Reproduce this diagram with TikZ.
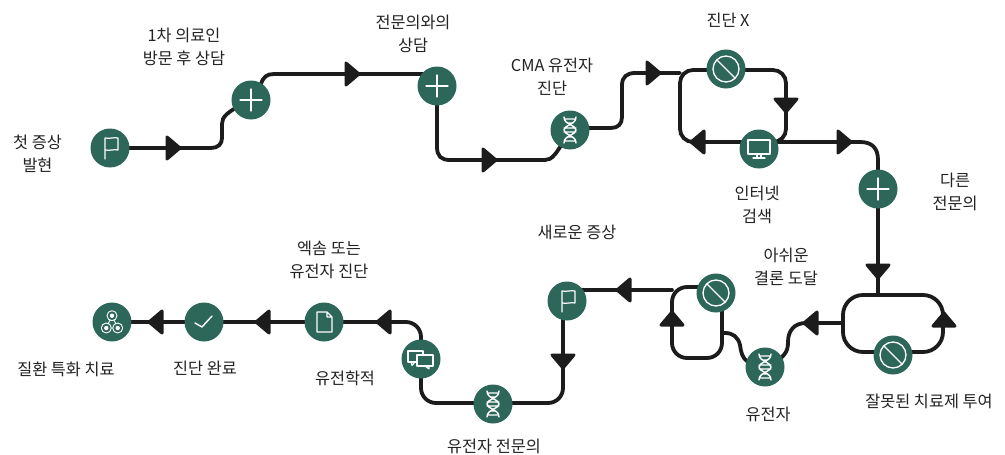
\documentclass[tikz,border=0pt]{standalone}
\usepackage{fontspec}
\setmainfont{Noto Sans CJK KR}
\usetikzlibrary{backgrounds}
\definecolor{stepgreen}{HTML}{2D675A}
\definecolor{linedark}{HTML}{1C1C1C}
\definecolor{labeltext}{HTML}{222222}
\tikzset{
  stepnode/.style={circle,fill=stepgreen,minimum size=39pt,inner sep=0pt},
  flowline/.style={draw=linedark,line width=3.8pt,line cap=round},
  tipmark/.style={fill=linedark,draw=linedark,line width=3pt,line join=round},
  lbl/.style={align=center,text=labeltext,inner sep=0pt,font=\fontsize{16.3}{23}\selectfont},
  iconline/.style={draw=white,line width=1.1pt,line join=round,line cap=round},
  plusicon/.pic={\draw[iconline] (-11,0)--(11,0) (0,-11)--(0,11);},
  flagicon/.pic={\draw[iconline,line width=1.2pt] (-5,11)--(-5,-10) .. controls (0,-9) and (4,-11) .. (8,-10)--(8,2) .. controls (4,1) and (0,3) .. (-5,2);},
  banicon/.pic={\draw[iconline,line width=1.3pt] (0,0) circle[radius=13pt] (-9,-9)--(9,9);},
  dnaicon/.pic={\draw[iconline,line width=1.4pt]
      (-6,-13) .. controls (-6,-5) and (6,-5) .. (6,0) .. controls (6,5) and (-6,5) .. (-6,13)
      (6,-13) .. controls (6,-5) and (-6,-5) .. (-6,0) .. controls (-6,5) and (6,5) .. (6,13)
      (-5,-11)--(5,-11) (-3,-7)--(3,-7) (-6,-2)--(6,-2) (-6,2)--(6,2) (-3,7)--(3,7) (-5,11)--(5,11);},
  monitoricon/.pic={\draw[iconline,line width=2pt] (-11,-9) rectangle (11,5);
      \draw[iconline] (-2,6)--(-2,8) (2,6)--(2,8) (-6,9)--(6,9);},
  checkicon/.pic={\draw[iconline,line width=1.4pt] (-9,1)--(-2,5)--(8,-6);},
  docicon/.pic={\draw[iconline,line width=1.4pt] (-7,-10)--(3,-10)--(8,-5)--(8,10)--(-7,10)--cycle (3,-10)--(3,-5)--(8,-5);},
  chaticon/.pic={\draw[iconline] (-13,-8) rectangle (2,3);
      \draw[iconline] (-10,3)--(-9,6.5)--(-6,3);
      \draw[iconline,fill=stepgreen] (-4,-4) rectangle (12,7);
      \draw[iconline] (4,7)--(8,10)--(8,7);},
  neticon/.pic={\draw[iconline,line width=.9pt] (0,-6.3)--(-5.7,6) (0,-6.3)--(5.7,6) (-5.7,6)--(5.7,6);
      \foreach \ax/\ay in {0/-6.3,-5.7/6,5.7/6}{\draw[iconline,fill=stepgreen,line width=.9pt] (\ax,\ay) circle[radius=5pt];\fill[white] (\ax,\ay) circle[radius=2.2pt];};}
}
\newcommand{\flowtip}[2]{\filldraw[tipmark,shift={(#1)},rotate=#2] (-6,-11)--(7,0)--(-6,11)--cycle;}
\begin{document}
\begin{tikzpicture}[x=1pt,y=-1pt]
\useasboundingbox (0,0) rectangle (1005,455);
% step nodes
\node[stepnode] (flagA) at (110,148) {};
\node[stepnode] (plusA) at (251,100) {};
\node[stepnode] (plusB) at (437,86) {};
\node[stepnode] (dnaA) at (570,130) {};
\node[stepnode] (banA) at (726,69) {};
\node[stepnode] (screen) at (759,149) {};
\node[stepnode] (plusC) at (878,189) {};
\node[stepnode] (banB) at (893,355) {};
\node[stepnode] (dnaB) at (765,367) {};
\node[stepnode] (banC) at (716,293) {};
\node[stepnode] (flagB) at (567,301) {};
\node[stepnode] (dnaC) at (493,404) {};
\node[stepnode] (talk) at (421,359) {};
\node[stepnode] (paper) at (324,322) {};
\node[stepnode] (done) at (204,322) {};
\node[stepnode] (net) at (112,322) {};
% free junctions
\coordinate (splitA) at (680,73);
\coordinate (splitB) at (778,142);
\coordinate (boxTop) at (878,295);
\coordinate (boxLeft) at (843,323);
\coordinate (loopC) at (672,290);
\coordinate (stubC) at (722,333);
\begin{scope}[on background layer]
\fill[white] (0,0) rectangle (1005,455);
\draw[flowline] (flagA.center) -- (211,148) .. controls (218,148) and (222,144) .. (222,138) -- (222,124) .. controls (222,117) and (226,112) .. (plusA.center);
\draw[flowline] (plusA.center) -- (261,84) .. controls (263,77) and (267,74) .. (274,74) -- (plusB.center |- 0,74);
\draw[flowline] (plusB.center) -- (437,147) .. controls (437,156) and (441,160) .. (450,160) -- (545,160) .. controls (552,160) and (556,155) .. (dnaA.center);
\draw[flowline] (dnaA.center |- 0,128) -- (611,128) .. controls (618,128) and (622,124) .. (622,117) -- (622,85) .. controls (622,77) and (627,73) .. (635,73) -- (splitA);
\draw[flowline,rounded corners=13pt] (banA.center |- 0,70) -- (680,70) -- (680,142) -- (screen.center |- 0,142);
\draw[flowline,rounded corners=13pt] (banA.center |- 0,70) -- (786,70) -- (786,142) -- (splitB);
\draw[flowline] (splitB) -- (860,142) .. controls (872,142) and (878,148) .. (878,160) -- (plusC.center);
\draw[flowline] (plusC.center) -- (boxTop);
\draw[flowline,rounded corners=20pt] (banB.center |- 0,352) -- (843,352) -- (843,295) -- (943,295) -- (943,352) -- (banB.center |- 0,352);
\draw[flowline] (boxLeft) -- (806,323) .. controls (794,323) and (788,331) .. (788,342) .. controls (788,352) and (785,358) .. (dnaB.center);
\draw[flowline] (dnaB.center) -- (748,362) .. controls (742,358) and (741,352) .. (740,345) .. controls (738,337) and (733,333) .. (725,333) -- (stubC);
\draw[flowline,rounded corners=15pt] (banC.center -| 722,0) -- (722,358) -- (672,358) -- (672,287) -- (banC.center |- 0,287);
\draw[flowline] (loopC) -- (flagB.center |- 0,290);
\draw[flowline,rounded corners=15pt] (flagB.center -| 563,0) -- (563,403) -- (dnaC.center |- 0,403);
\draw[flowline,rounded corners=15pt] (dnaC.center |- 0,403) -- (421,403) -- (talk.center);
\draw[flowline,rounded corners=15pt] (talk.center) -- (421,322) -- (paper.center);
\draw[flowline] (paper.center) -- (done.center);
\draw[flowline] (done.center) -- (net.center);
\flowtip{173,148}{0}
\flowtip{352,74}{0}
\flowtip{489,160}{0}
\flowtip{653,73}{0}
\flowtip{786,105}{270}
\flowtip{698,142}{180}
\flowtip{844,142}{0}
\flowtip{878,271}{270}
\flowtip{944,320}{90}
\flowtip{811,323}{180}
\flowtip{672,319}{90}
\flowtip{624,290}{180}
\flowtip{563,361}{270}
\flowtip{384,322}{180}
\flowtip{263,322}{180}
\flowtip{156,322}{180}
\end{scope}
% icons
\pic at (flagA) {flagicon};
\pic at (flagB) {flagicon};
\pic at (plusA) {plusicon};
\pic at (plusB) {plusicon};
\pic at (plusC) {plusicon};
\pic at (dnaA) {dnaicon};
\pic at (dnaB) {dnaicon};
\pic at (dnaC) {dnaicon};
\pic at (banA) {banicon};
\pic at (banB) {banicon};
\pic at (banC) {banicon};
\pic at (screen) {monitoricon};
\pic at (done) {checkicon};
\pic at (paper) {docicon};
\pic at (talk) {chaticon};
\pic at (net) {neticon};
% labels
\node[lbl] (t1) at (37.5,154) {첫 증상\\발현};
\node[lbl] (t2) at (184,47) {1차 의료인\\방문 후 상담};
\node[lbl] (t3) at (413,34) {전문의와의\\상담};
\node[lbl] (t4) at (552,77) {CMA 유전자\\진단};
\node[lbl] (t5) at (728,20) {진단 X};
\node[lbl] (t6) at (757,205) {인터넷\\검색};
\node[lbl] (t7) at (955,192) {다른\\전문의};
\node[lbl] (t8) at (577,232) {새로운 증상};
\node[lbl] (t9) at (786,267) {아쉬운\\결론 도달};
\node[lbl] (t10) at (329,260) {엑솜 또는\\유전자 진단};
\node[lbl] (t11) at (929,401) {잘못된 치료제 투여};
\node[lbl] (t12) at (768,414) {유전자};
\node[lbl] (t13) at (345,378) {유전학적};
\node[lbl] (t14) at (494,446) {유전자 전문의};
\node[lbl] (t15) at (205,368) {진단 완료};
\node[lbl] (t16) at (66,369) {질환 특화 치료};
\end{tikzpicture}
\end{document}
